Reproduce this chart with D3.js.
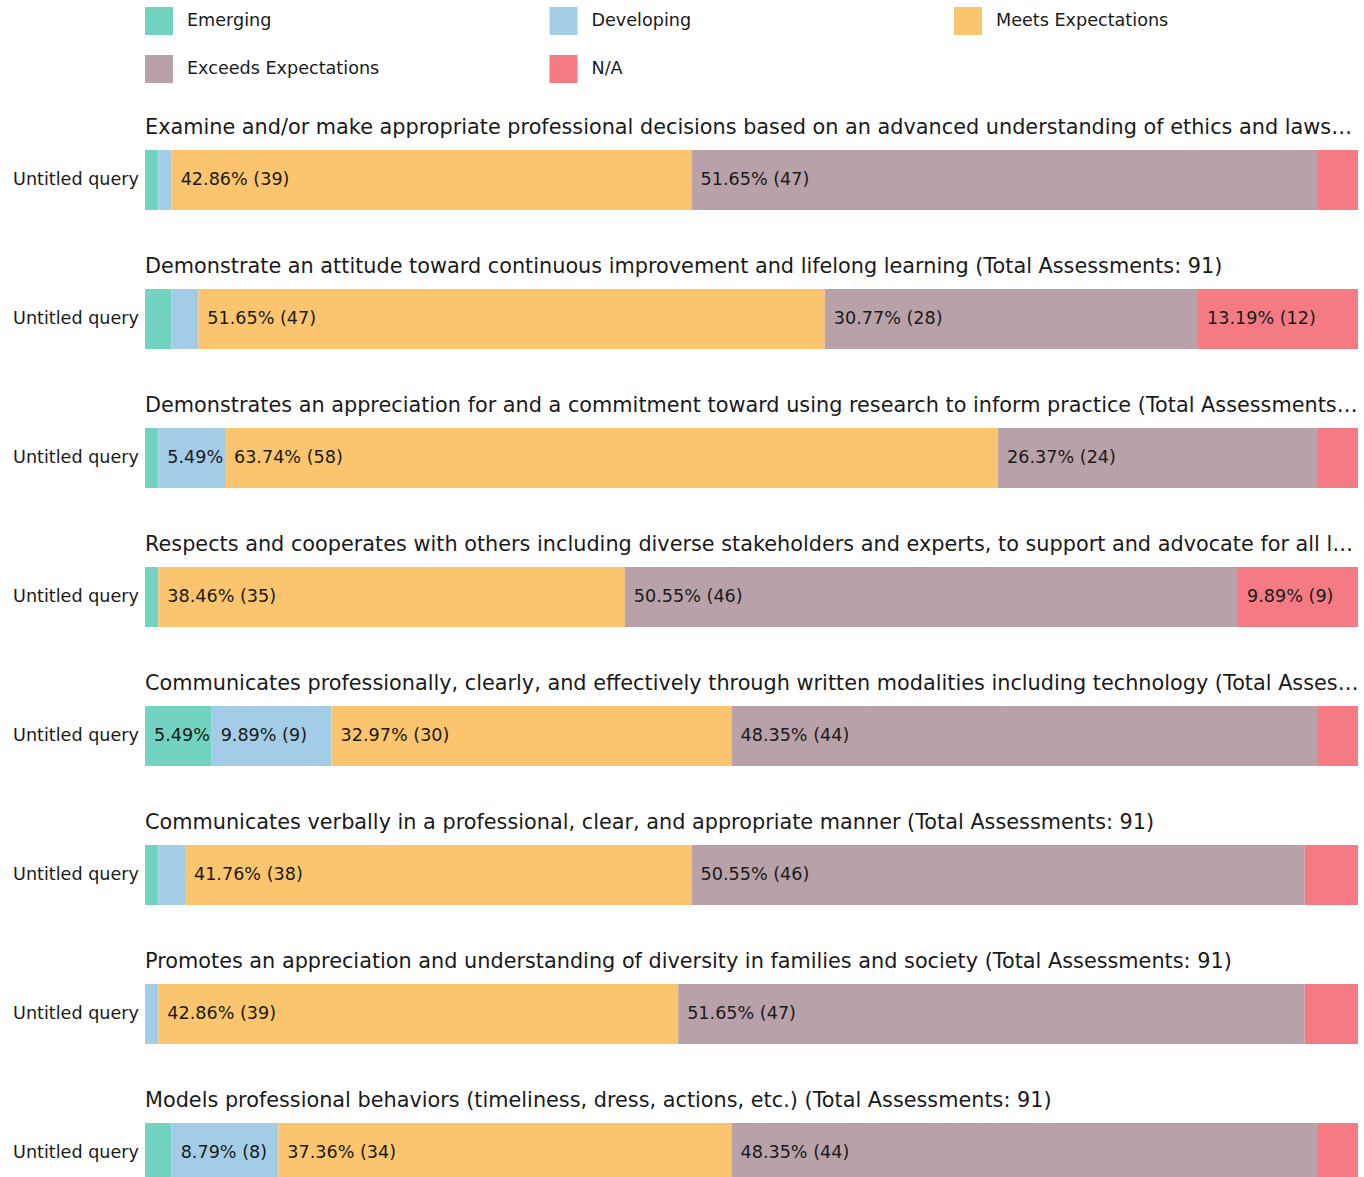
<!DOCTYPE html>
<html>
<head>
<meta charset="utf-8">
<script src="https://cdn.jsdelivr.net/npm/d3@7"></script>
<style>
  body { margin: 0; background: #fff; }
  text { font-family: "DejaVu Sans", sans-serif; fill: #1a1a1a; }
</style>
</head>
<body>
<div id="chart"></div>
<script>
const categories = ["Emerging", "Developing", "Meets Expectations", "Exceeds Expectations", "N/A"];
const colors = ["#72d3c1", "#a3cde6", "#fbc570", "#b9a1a9", "#f47b83"];

const titles = [
  "Examine and/or make appropriate professional decisions based on an advanced understanding of ethics and laws (Total Assessments: 91)",
  "Demonstrate an attitude toward continuous improvement and lifelong learning (Total Assessments: 91)",
  "Demonstrates an appreciation for and a commitment toward using research to inform practice (Total Assessments: 91)",
  "Respects and cooperates with others including diverse stakeholders and experts, to support and advocate for all learners (Total Assessments: 91)",
  "Communicates professionally, clearly, and effectively through written modalities including technology (Total Assessments: 91)",
  "Communicates verbally in a professional, clear, and appropriate manner (Total Assessments: 91)",
  "Promotes an appreciation and understanding of diversity in families and society (Total Assessments: 91)",
  "Models professional behaviors (timeliness, dress, actions, etc.) (Total Assessments: 91)"
];
const rowLabel = "Untitled query";

// counts per category: Emerging, Developing, Meets, Exceeds, N/A
const counts = [
  [1, 1, 39, 47, 3],
  [2, 2, 47, 28, 12],
  [1, 5, 58, 24, 3],
  [1, 0, 35, 46, 9],
  [5, 9, 30, 44, 3],
  [1, 2, 38, 46, 4],
  [0, 1, 39, 47, 4],
  [2, 8, 34, 44, 3]
];

const W = 1364, H = 1177;
const left = 145, right = 1358;
const firstBarTop = 150, step = 139, barH = 60;
const fs = 17.6, titleFs = 20.8;

const svg = d3.select("#chart").append("svg")
  .attr("width", W).attr("height", H);

// legend
const legend = svg.append("g");
categories.forEach((c, i) => {
  const col = i % 3, row = Math.floor(i / 3);
  const g = legend.append("g")
    .attr("transform", `translate(${145 + col * 404.5}, ${7 + row * 48})`);
  g.append("rect").attr("width", 28).attr("height", 28).attr("fill", colors[i]);
  g.append("text").attr("x", 42).attr("y", 13)
    .attr("dominant-baseline", "central")
    .attr("font-size", fs).text(c);
});

const x = d3.scaleLinear().range([left, right]);

function fitText(sel, str, maxW) {
  sel.text(str);
  if (sel.node().getComputedTextLength() <= maxW) return;
  let s = str;
  while (s.length > 0) {
    s = s.slice(0, -1);
    sel.text(s.trimEnd() + "…");
    if (sel.node().getComputedTextLength() <= maxW) return;
  }
}

counts.forEach((vals, k) => {
  const total = d3.sum(vals);
  x.domain([0, total]);
  const top = firstBarTop + k * step;
  const g = svg.append("g");

  const t = g.append("text")
    .attr("x", left).attr("y", top - 16)
    .attr("font-size", titleFs);
  fitText(t, titles[k], right - left + 4);

  g.append("text")
    .attr("x", left - 6).attr("y", top + barH / 2 - 1)
    .attr("text-anchor", "end")
    .attr("dominant-baseline", "central")
    .attr("font-size", fs)
    .text(rowLabel);

  let acc = 0;
  const segs = vals.map((v, i) => {
    const s = { i, v, x0: acc, x1: acc + v };
    acc += v;
    return s;
  });

  g.selectAll("rect.seg").data(segs).join("rect")
    .attr("class", "seg")
    .attr("x", d => x(d.x0))
    .attr("y", top)
    .attr("width", d => x(d.x1) - x(d.x0))
    .attr("height", barH)
    .attr("fill", d => colors[d.i]);

  segs.forEach(d => {
    if (d.v === 0) return;
    const w = x(d.x1) - x(d.x0);
    const pct = (d.v / total * 100).toFixed(2) + "%";
    const lbl = g.append("text")
      .attr("x", x(d.x0) + 9)
      .attr("y", top + barH / 2 - 1)
      .attr("dominant-baseline", "central")
      .attr("font-size", fs);
    lbl.text(`${pct} (${d.v})`);
    if (lbl.node().getComputedTextLength() + 12 > w) {
      lbl.text(pct);
      if (lbl.node().getComputedTextLength() + 2 > w) lbl.remove();
    }
  });
});
</script>
</body>
</html>
